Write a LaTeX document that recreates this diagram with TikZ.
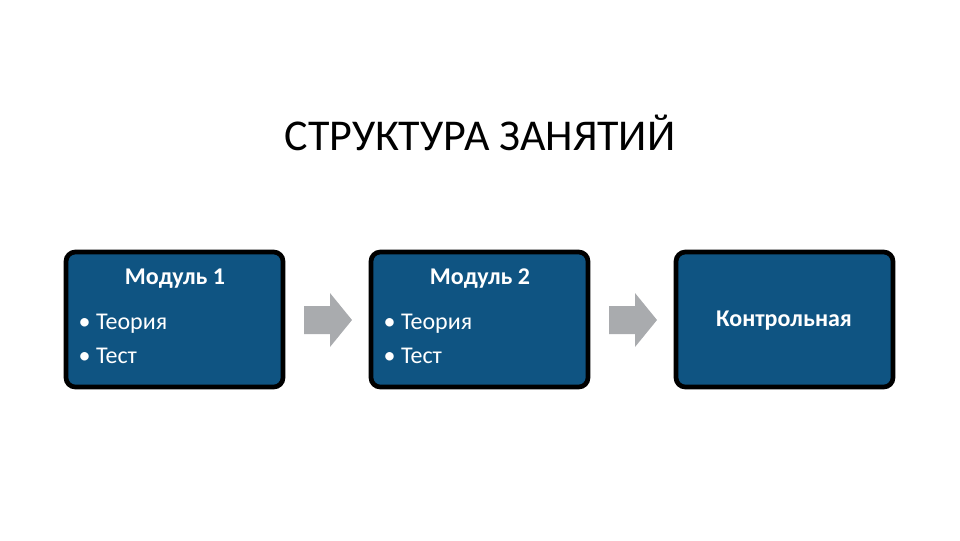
\documentclass[tikz,border=0pt]{standalone}
\usepackage{fontspec}
\setmainfont{Carlito}
\definecolor{boxblue}{HTML}{0F5482}
\definecolor{arrgray}{HTML}{A9ABAE}
\begin{document}
\begin{tikzpicture}[x=0.75pt,y=-0.75pt,
  box/.style={draw=black,line width=3.5pt,fill=boxblue,rounded corners=7pt},
  head/.style={text=white,font=\fontsize{18}{20}\selectfont\bfseries,anchor=center},
  body/.style={text=white,font=\fontsize{18}{25}\selectfont,anchor=west,align=left},
  arr/.style={fill=arrgray}]
\useasboundingbox (0,0) rectangle (960,540);
\node[font=\fontsize{33}{36}\selectfont,anchor=center] (title) at (480,133) {СТРУКТУРА ЗАНЯТИЙ};
\draw[box] (66,252) rectangle (283,387);
\draw[box] (371,252) rectangle (588,387);
\draw[box] (676,252) rectangle (893,387);
\node[head] (h1) at (175,279) {Модуль 1};
\node[body] (b1) at (74,339) {• Теория\\• Тест};
\node[head] (h2) at (480,279) {Модуль 2};
\node[body] (b2) at (379,339) {• Теория\\• Тест};
\node[head] (h3) at (784,321) {Контрольная};
\fill[arr] (304,306)--(330,306)--(330,293)--(352,320)--(330,347)--(330,334)--(304,334)--cycle;
\fill[arr] (609,306)--(635,306)--(635,293)--(657,320)--(635,347)--(635,334)--(609,334)--cycle;
\end{tikzpicture}
\end{document}
